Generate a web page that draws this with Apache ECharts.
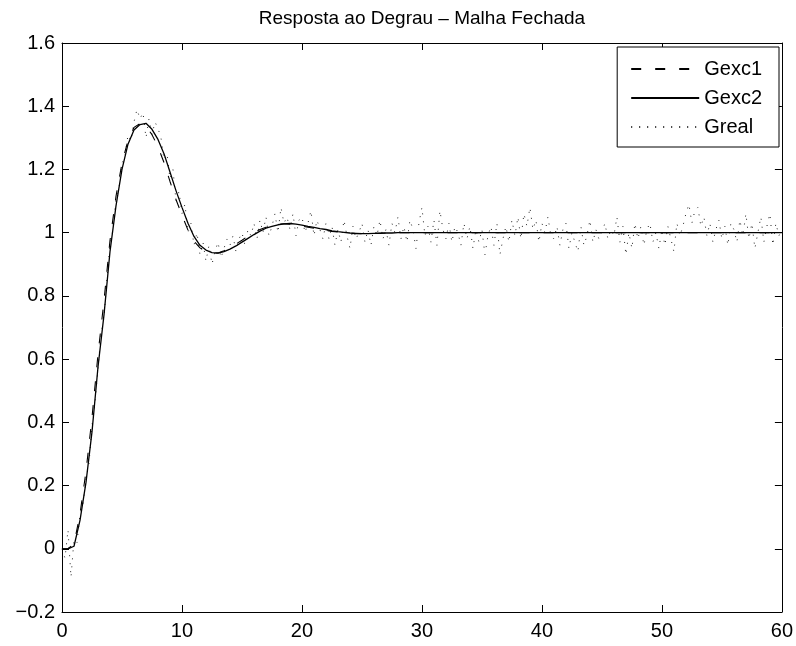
<!DOCTYPE html>
<html>
<head>
<meta charset="utf-8">
<script src="https://cdn.jsdelivr.net/npm/echarts@6/dist/echarts.min.js"></script>
<style>
html,body{margin:0;padding:0;background:#fff;}
#chart{width:796px;height:646px;}
</style>
</head>
<body>
<div id="chart"></div>
<script>
const titleText = 'Resposta ao Degrau – Malha Fechada';
const seriesNames = ['Gexc1', 'Gexc2', 'Greal'];
const xTickValues = [0, 10, 20, 30, 40, 50, 60];
const yTickValues = [-0.2, 0, 0.2, 0.4, 0.6, 0.8, 1, 1.2, 1.4, 1.6];
const yTickLabels = ['\u22120.2', '0', '0.2', '0.4', '0.6', '0.8', '1', '1.2', '1.4', '1.6'];

// time samples of the two model responses
const tModel = [
  0, 0.5, 1, 1.5, 2, 2.5, 3, 3.5, 4, 4.5,
  5, 5.5, 6, 6.5, 7, 7.5, 8, 8.5, 9, 9.5,
  10, 10.5, 11, 11.5, 12, 12.5, 13, 13.5, 14, 14.5,
  15, 15.5, 16, 16.5, 17, 17.5, 18, 18.5, 19, 19.5,
  20, 20.5, 21, 21.5, 22, 22.5, 23, 23.5, 24, 24.5,
  25, 25.5, 26, 26.5, 27, 27.5, 28, 28.5, 29, 29.5,
  30, 35, 40, 45, 50, 55, 60
];
const gexc1 = [
  0, 0, 0.015, 0.11, 0.245, 0.415, 0.615, 0.785, 0.975, 1.115,
  1.22, 1.292, 1.333, 1.345, 1.337, 1.31, 1.272, 1.222, 1.162, 1.105,
  1.055, 1.008, 0.973, 0.952, 0.94, 0.935, 0.936, 0.943, 0.952, 0.964,
  0.976, 0.989, 1.0, 1.01, 1.017, 1.023, 1.027, 1.028, 1.027, 1.024,
  1.021, 1.017, 1.014, 1.011, 1.007, 1.004, 1.002, 1.0, 0.998, 0.997,
  0.997, 0.998, 0.998, 0.999, 0.999, 1.0, 1.0, 1.0, 1.0, 1.0,
  1.0, 1.0, 1.0, 1.0, 1.0, 1.0, 1.0
];
const gexc2 = [
  0, 0, 0.008, 0.09, 0.21, 0.37, 0.575, 0.74, 0.94, 1.085,
  1.2, 1.28, 1.325, 1.342, 1.346, 1.327, 1.295, 1.25, 1.192, 1.133,
  1.08, 1.03, 0.988, 0.96, 0.945, 0.937, 0.935, 0.94, 0.948, 0.958,
  0.97, 0.982, 0.994, 1.005, 1.014, 1.02, 1.025, 1.028, 1.029, 1.027,
  1.024, 1.02, 1.017, 1.013, 1.01, 1.006, 1.003, 1.001, 0.999, 0.998,
  0.997, 0.997, 0.998, 0.998, 0.999, 0.999, 1.0, 1.0, 1.0, 1.0,
  1.0, 1.0, 1.0, 1.0, 1.0, 1.0, 1.0
];

// measured (noisy) response, one sample every 0.25 s from 0 to 60
const realStep = 0.25;
const greal = [
  0.00, -0.03, 0.06, -0.09,
  0.03, 0.02, 0.11, 0.14,
  0.22, 0.27, 0.39, 0.46,
  0.57, 0.68, 0.73, 0.86,
  0.96, 1.01, 1.11, 1.14,
  1.22, 1.24, 1.31, 1.29,
  1.35, 1.39, 1.36, 1.38,
  1.30, 1.36, 1.31, 1.35,
  1.33, 1.30, 1.23, 1.25,
  1.17, 1.20, 1.10, 1.13,
  1.06, 1.09, 1.00, 1.03,
  0.96, 1.00, 0.93, 0.97,
  0.91, 0.96, 0.90, 0.94,
  0.97, 0.92, 0.95, 0.98,
  0.96, 0.99, 0.94, 0.98,
  1.00, 0.96, 1.01, 0.99,
  1.03, 0.98, 1.04, 1.00,
  1.05, 0.99, 1.02, 1.06,
  1.00, 1.08, 1.03, 1.05,
  1.01, 1.06, 0.99, 1.04,
  1.05, 1.00, 1.03, 1.07,
  0.99, 1.04, 1.01, 0.98,
  1.03, 0.98, 1.02, 0.96,
  1.01, 0.97, 1.04, 0.99,
  0.95, 1.02, 0.98, 1.00,
  1.03, 0.97, 1.01, 0.96,
  1.02, 0.99, 1.04, 0.98,
  1.01, 0.96, 1.03, 1.00,
  1.05, 0.98, 1.02, 0.97,
  1.04, 1.01, 0.95, 1.03,
  1.08, 0.99, 1.02, 0.97,
  1.04, 0.96, 1.07, 1.01,
  0.98, 1.03, 0.97, 1.02,
  1.00, 0.96, 1.03, 0.98,
  1.02, 0.95, 1.01, 0.97,
  1.01, 0.93, 0.99, 1.02,
  0.96, 1.03, 0.93, 0.98,
  1.02, 0.97, 1.04, 0.99,
  1.05, 0.98, 1.06, 1.02,
  1.08, 1.01, 1.04, 0.97,
  1.03, 1.00, 1.05, 0.99,
  0.98, 1.02, 0.96, 1.01,
  1.03, 0.95, 1.00, 0.97,
  0.94, 1.02, 0.96, 0.99,
  1.04, 0.97, 1.01, 0.98,
  1.00, 1.03, 0.98, 1.01,
  0.99, 1.05, 0.97, 1.02,
  0.93, 1.00, 0.95, 1.03,
  0.98, 1.02, 0.96, 1.01,
  1.03, 0.97, 1.00, 0.95,
  1.01, 0.96, 1.02, 0.98,
  0.94, 1.03, 0.99, 1.02,
  1.06, 1.09, 1.03, 1.07,
  1.08, 1.02, 1.05, 0.99,
  1.03, 0.97, 1.01, 1.04,
  0.98, 1.02, 0.96, 1.03,
  1.01, 0.97, 1.04, 0.99,
  1.06, 0.98, 1.03, 0.95,
  1.00, 1.05, 0.97, 1.02,
  1.06, 0.96, 1.03, 0.99,
  1.01
];

const FONT = "'Liberation Sans', Arial, Helvetica, sans-serif";
const pairs = (ts, vs) => vs.map((v, i) => [ts[i], v]);
const realPairs = greal.map((v, i) => [i * realStep, v]);

const chart = echarts.init(document.getElementById('chart'), null, {renderer: 'canvas'});

const axisCommon = {
  type: 'value',
  splitLine: {show: false},
  axisLine: {show: true, onZero: false, lineStyle: {color: '#000', width: 1}},
  axisTick: {show: true, inside: true, length: 7, lineStyle: {color: '#000', width: 1}}
};

chart.setOption({
  animation: false,
  backgroundColor: '#fff',
  title: {
    text: titleText,
    left: 422,
    top: 9,
    padding: 0,
    textAlign: 'center',
    textStyle: {fontSize: 19, fontWeight: 'normal', color: '#000', fontFamily: FONT}
  },
  grid: {left: 62, right: 13, top: 43, bottom: 34, containLabel: false},
  xAxis: [
    Object.assign({}, axisCommon, {
      position: 'bottom', min: xTickValues[0], max: xTickValues[xTickValues.length - 1], interval: 10,
      axisLabel: {show: true, margin: 9, color: '#000', fontSize: 20, fontFamily: FONT}
    }),
    Object.assign({}, axisCommon, {
      position: 'top', min: xTickValues[0], max: xTickValues[xTickValues.length - 1], interval: 10,
      axisLabel: {show: false}
    })
  ],
  yAxis: [
    Object.assign({}, axisCommon, {
      position: 'left', min: yTickValues[0], max: yTickValues[yTickValues.length - 1], interval: 0.2,
      axisLabel: {
        show: true, margin: 7, color: '#000', fontSize: 20, fontFamily: FONT,
        formatter: function (v) {
          let best = 0, bd = Infinity;
          yTickValues.forEach((t, i) => { const d = Math.abs(t - v); if (d < bd) { bd = d; best = i; } });
          return yTickLabels[best];
        }
      }
    }),
    Object.assign({}, axisCommon, {
      position: 'right', min: yTickValues[0], max: yTickValues[yTickValues.length - 1], interval: 0.2,
      axisLabel: {show: false}
    })
  ],
  legend: {
    data: seriesNames,
    orient: 'vertical',
    right: 17,
    top: 47,
    backgroundColor: '#fff',
    borderColor: '#000',
    borderWidth: 1,
    borderRadius: 0,
    padding: [12, 17, 10, 13],
    itemWidth: 68,
    itemHeight: 14,
    itemGap: 9,
    itemStyle: {opacity: 0},
    textStyle: {fontSize: 20, color: '#000', fontFamily: FONT}
  },
  series: [
    {
      name: seriesNames[0], type: 'line', xAxisIndex: 0, yAxisIndex: 0,
      data: pairs(tModel, gexc1), symbol: 'none', showSymbol: false,
      itemStyle: {color: '#000'},
      lineStyle: {color: '#000', width: 1.1, type: [10, 14]}, z: 3
    },
    {
      name: seriesNames[1], type: 'line', xAxisIndex: 0, yAxisIndex: 0,
      data: pairs(tModel, gexc2), symbol: 'none', showSymbol: false,
      itemStyle: {color: '#000'},
      lineStyle: {color: '#000', width: 1.3, type: 'solid'}, z: 4
    },
    {
      name: seriesNames[2], type: 'line', xAxisIndex: 0, yAxisIndex: 0,
      data: realPairs, symbol: 'none', showSymbol: false,
      itemStyle: {color: '#000'},
      lineStyle: {color: '#222', width: 1, type: [1, 7]}, z: 2
    }
  ]
});
</script>
</body>
</html>
